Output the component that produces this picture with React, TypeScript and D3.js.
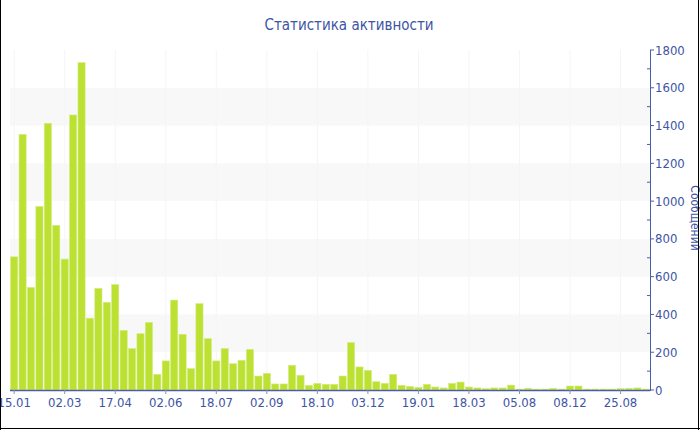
import React from "react";
import * as d3 from "d3";

const values: number[] = [
  705, 1353, 543, 972, 1412, 872, 693, 1456, 1733, 380,
  538, 464, 558, 316, 219, 298, 358, 83, 154, 476,
  295, 113, 457, 272, 154, 219, 139, 157, 215, 74,
  88, 32, 32, 131, 78, 25, 35, 30, 30, 74,
  251, 122, 104, 44, 35, 83, 25, 19, 14, 30,
  16, 11, 35, 42, 16, 11, 7, 11, 11, 26,
  5, 9, 5, 5, 9, 5, 21, 21, 5, 5,
  5, 5, 7, 9, 11, 5,
];
const tickLabels: string[] = [
  "15.01", "02.03", "17.04", "02.06", "18.07", "02.09", "18.10",
  "03.12", "19.01", "18.03", "05.08", "08.12", "25.08",
];
const tickEvery = 6;
const yTicks: number[] = [0, 200, 400, 600, 800, 1000, 1200, 1400, 1600, 1800];
const title = "Статистика активности";
const yTitle = "Сообщений";

export default function App() {
  const W = 700, H = 430;
  const left = 10, right = 650, top = 50, bottom = 390;
  const idx = values.map((_, i) => i);
  const x = d3.scaleBand<number>().domain(idx).range([left, right]).paddingInner(0.15).paddingOuter(0.07);
  const y = d3.scaleLinear().domain([0, 1800]).range([bottom, top]);
  const axisColor = "#4a5ea8";
  const textColor = "#3d55a3";
  const font = "'DejaVu Sans Condensed', 'DejaVu Sans', sans-serif";
  const minor = d3.range(100, 1800, 200);
  const bands = [200, 600, 1000, 1400];
  const tickIdx = tickLabels.map((_, k) => k * tickEvery);
  const cx = (i: number) => (x(i) as number) + x.bandwidth() / 2;
  return (
    <svg width={W} height={H} style={{ position: "absolute", left: 0, top: 0, background: "#fff", fontStretch: "condensed" }} fontFamily={font}>
      {bands.map((b) => (
        <rect key={b} x={left} width={right - left} y={y(b + 200)} height={y(b) - y(b + 200)} fill="#f8f8f8" />
      ))}
      {tickIdx.map((i) => (
        <line key={"g" + i} x1={cx(i)} x2={cx(i)} y1={top} y2={bottom} stroke="#f5f5f5" strokeWidth={1} />
      ))}
      {values.map((v, i) => (
        <rect key={i} x={x(i)} width={x.bandwidth()} y={y(v)} height={bottom - y(v)} fill="#bde132" stroke="#d3ec7e" strokeWidth={0.6} />
      ))}
      <line x1={left} x2={right} y1={bottom + 0.5} y2={bottom + 0.5} stroke={axisColor} strokeWidth={1.5} />
      {tickIdx.map((i, k) => (
        <g key={"t" + i}>
          <line x1={cx(i)} x2={cx(i)} y1={bottom} y2={bottom + 4} stroke="#8892b8" />
          <text x={cx(i)} y={407} textAnchor="middle" fontSize={13} fill={textColor}>{tickLabels[k]}</text>
        </g>
      ))}
      <line x1={right + 0.5} x2={right + 0.5} y1={top} y2={bottom + 1} stroke={axisColor} strokeWidth={1} />
      {yTicks.map((t) => (
        <g key={"y" + t}>
          <line x1={right} x2={right + 4} y1={y(t)} y2={y(t)} stroke={axisColor} />
          <text x={right + 5} y={y(t) + 4.5} fontSize={13} fill={textColor}>{t}</text>
        </g>
      ))}
      {minor.map((t) => (
        <line key={"m" + t} x1={right - 3} x2={right} y1={y(t)} y2={y(t)} stroke={axisColor} />
      ))}
      <text transform={`translate(691,218) rotate(90)`} textAnchor="middle" fontSize={12} fill={textColor}>{yTitle}</text>
      <text x={349} y={30} textAnchor="middle" fontSize={15} fill={textColor}>{title}</text>
      <line x1={0.5} x2={0.5} y1={0} y2={H} stroke="#000" />
      <line x1={698.5} x2={698.5} y1={0} y2={H} stroke="#000" />
      <line x1={0} x2={W} y1={428.5} y2={428.5} stroke="#000" />
    </svg>
  );
}
